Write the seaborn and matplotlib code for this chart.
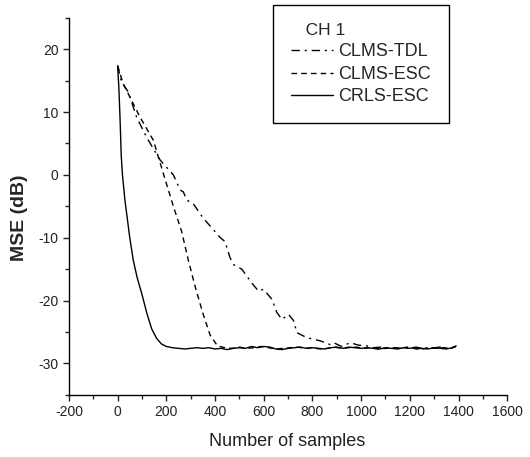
import numpy as np
import pandas as pd
import seaborn as sns
import matplotlib.pyplot as plt
from matplotlib.ticker import MultipleLocator

# values
tdl_n = [0, 16, 44, 78, 119, 174, 229, 257, 270, 284, 311, 352, 393, 422, 441, 462,
         477, 510, 551, 579, 599, 634, 654, 675, 702, 723, 736, 777, 832, 873, 887,
         920, 955, 990, 1023, 1050, 1080, 1110, 1140, 1170, 1200, 1230, 1260, 1290,
         1320, 1350, 1390]
tdl_mse = [17.4, 14.8, 13.2, 9.2, 6.0, 2.4, 0.0, -2.4, -2.7, -4.0, -4.6, -6.9, -8.7,
           -10.0, -10.6, -13.2, -14.3, -15.0, -17.2, -18.5, -18.2, -19.8, -21.9, -23.0,
           -22.2, -23.2, -25.1, -25.9, -26.4, -27.0, -26.7, -27.3, -26.7, -27.1, -27.2,
           -27.5, -27.4, -27.6, -27.5, -27.6, -27.5, -27.7, -27.5, -27.6, -27.4, -27.6,
           -27.3]

esc_n = [0, 23, 92, 147, 188, 229, 263, 290, 318, 350, 380, 410, 440, 470, 500, 530,
         560, 590, 620, 650, 680, 710, 740, 770, 800, 830, 860, 890, 920, 950, 980,
         1010, 1040, 1070, 1100, 1130, 1160, 1190, 1220, 1250, 1280, 1310, 1340, 1370,
         1390]
esc_mse = [17.4, 14.5, 9.2, 5.5, 0.2, -5.0, -9.0, -13.5, -17.7, -22.0, -25.5, -27.2,
           -27.5, -27.6, -27.4, -27.6, -27.5, -27.3, -27.5, -27.7, -27.6, -27.5, -27.4,
           -27.6, -27.5, -27.7, -27.6, -27.4, -27.6, -27.5, -27.4, -27.6, -27.5, -27.7,
           -27.6, -27.5, -27.6, -27.4, -27.6, -27.7, -27.5, -27.6, -27.5, -27.6, -27.3]

rls_n = [0, 5, 10, 15, 20, 30, 40, 50, 64, 80, 100, 120, 140, 160, 180, 200, 225, 250,
         275, 300, 325, 350, 375, 400, 425, 450, 475, 500, 525, 550, 575, 600, 625,
         650, 675, 700, 725, 750, 775, 800, 825, 850, 875, 900, 925, 950, 975, 1000,
         1025, 1050, 1075, 1100, 1125, 1150, 1175, 1200, 1225, 1250, 1275, 1300, 1325,
         1350, 1375, 1390]
rls_mse = [17.3, 14.0, 9.0, 3.0, 0.0, -4.0, -7.0, -10.0, -13.5, -16.3, -19.0, -22.0,
           -24.5, -26.0, -26.9, -27.3, -27.5, -27.6, -27.7, -27.6, -27.5, -27.6, -27.5,
           -27.7, -27.6, -27.8, -27.6, -27.5, -27.6, -27.3, -27.5, -27.3, -27.4, -27.7,
           -27.8, -27.6, -27.5, -27.4, -27.6, -27.5, -27.6, -27.7, -27.5, -27.4, -27.6,
           -27.4, -27.5, -27.6, -27.5, -27.6, -27.7, -27.5, -27.6, -27.7, -27.5, -27.6,
           -27.4, -27.6, -27.7, -27.5, -27.6, -27.7, -27.5, -27.2]

labels = ['CLMS-TDL', 'CLMS-ESC', 'CRLS-ESC']

df = pd.concat([
    pd.DataFrame({'n': tdl_n, 'mse': tdl_mse, 'alg': labels[0]}),
    pd.DataFrame({'n': esc_n, 'mse': esc_mse, 'alg': labels[1]}),
    pd.DataFrame({'n': rls_n, 'mse': rls_mse, 'alg': labels[2]}),
])

sns.set_style('ticks')
plt.rcParams['font.family'] = ['Liberation Sans', 'DejaVu Sans']
plt.rcParams['axes.unicode_minus'] = False

fig = plt.figure(figsize=(5.30, 4.57), dpi=100)
ax = fig.add_axes([0.130, 0.136, 0.827, 0.825])
sns.lineplot(data=df, x='n', y='mse', style='alg', style_order=labels,
             dashes={labels[0]: (6, 3.5, 1.5, 3.5), labels[1]: (4, 3), labels[2]: ''},
             color='black', linewidth=1, estimator=None, sort=False, ax=ax,
             legend=False)

ax.set_xlim(-200, 1600)
ax.set_ylim(-35, 25)
ax.xaxis.set_major_locator(MultipleLocator(200))
ax.xaxis.set_minor_locator(MultipleLocator(100))
ax.yaxis.set_major_locator(MultipleLocator(10))
ax.yaxis.set_minor_locator(MultipleLocator(5))
ax.set_yticks([-30, -20, -10, 0, 10, 20])
ax.tick_params(which='major', length=4, width=1, labelsize=10, colors='#222222')
ax.tick_params(which='minor', length=3, width=1)
sns.despine(ax=ax)
for s in ['left', 'bottom']:
    ax.spines[s].set_linewidth(1)
    ax.spines[s].set_color('black')

ax.set_xlabel('Number of samples', fontsize=13, color='#222222')
ax.set_ylabel('MSE (dB)', fontsize=14, fontweight='bold')
ax.xaxis.set_label_coords(0.497, -0.10)
ax.yaxis.set_label_coords(-0.094, 0.469)

handles = ax.get_lines()[:3]
leg = fig.legend(handles, labels, title='   CH 1', loc='upper left',
                 bbox_to_anchor=(0.515, 0.989), fontsize=13, title_fontsize=12.5,
                 frameon=True, fancybox=False, framealpha=1, edgecolor='black',
                 handlelength=2.3, handletextpad=0.3, labelspacing=0.3,
                 borderpad=1.0, alignment='left', borderaxespad=0)
leg.get_frame().set_linewidth(1)

fig.savefig('out.png', dpi=100)
